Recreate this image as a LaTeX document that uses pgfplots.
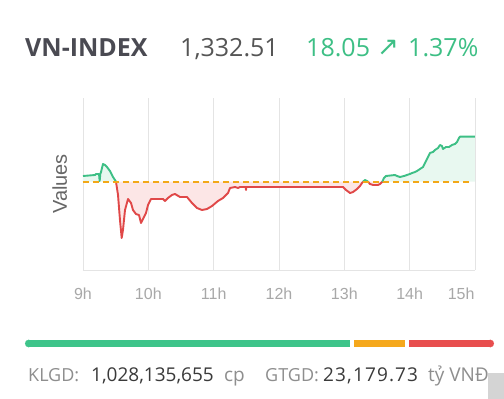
\documentclass[border=0pt]{standalone}
\usepackage{pgfplots}
\pgfplotsset{compat=1.18}
\usepackage{pgfplotstable}
\usepackage{fontspec}
\setmainfont{Open Sans}
\newfontfamily\arialf{Liberation Sans}
\newfontfamily\dejavu{DejaVu Sans}
\definecolor{upg}{HTML}{3DBF85}
\definecolor{dnr}{HTML}{E04848}
\definecolor{refo}{HTML}{F2A818}
\definecolor{upfill}{HTML}{E8F8F0}
\definecolor{dnfill}{HTML}{FCE6E6}
\definecolor{gridc}{HTML}{E4E4E4}
\definecolor{tickc}{HTML}{A8A8A8}
\definecolor{headc}{HTML}{4A4A52}
\definecolor{valc}{HTML}{555555}
\definecolor{lblc}{HTML}{8E8E8E}
\definecolor{numc}{HTML}{3A3A3A}
\definecolor{barg}{HTML}{3EC48A}
\definecolor{baro}{HTML}{F5A81C}
\definecolor{barr}{HTML}{E84E4E}

% green segment 1 (above reference)
\pgfplotstableread{
x y
9.000 1316.74
9.184 1317.14
9.199 1317.54
9.245 1317.54
9.255 1314.74
9.265 1317.54
9.276 1318.34
9.306 1321.54
9.337 1321.14
9.367 1320.34
9.413 1318.74
9.459 1316.34
9.490 1315.14
9.505 1314.46
}\gA
% red segment 1
\pgfplotstableread{
x y
9.505 1314.46
9.536 1309.14
9.566 1299.14
9.592 1291.94
9.612 1295.14
9.643 1303.14
9.689 1307.54
9.735 1305.94
9.765 1303.14
9.811 1301.54
9.857 1301.14
9.888 1297.94
9.918 1299.54
9.964 1301.94
9.995 1305.14
10.041 1307.54
10.225 1307.54
10.255 1306.74
10.301 1307.94
10.362 1309.14
10.408 1309.54
10.485 1308.34
10.592 1308.34
10.668 1305.94
10.745 1303.94
10.822 1303.14
10.898 1303.54
10.975 1304.74
11.066 1306.74
11.143 1307.94
11.220 1309.94
11.250 1311.94
11.327 1312.34
11.373 1311.94
11.403 1312.34
11.490 1312.34
11.495 1311.14
11.500 1312.34
12.980 1312.34
13.026 1311.14
13.087 1309.94
13.133 1310.34
13.194 1311.54
13.240 1312.74
13.271 1313.94
13.286 1314.46
}\rA
% green segment 2
\pgfplotstableread{
x y
13.286 1314.46
13.316 1315.14
13.347 1314.74
13.362 1314.46
}\gB
% red segment 2
\pgfplotstableread{
x y
13.362 1314.46
13.393 1313.54
13.439 1313.14
13.515 1313.14
13.546 1313.54
13.577 1314.34
13.581 1314.46
}\rB
% green segment 3
\pgfplotstableread{
x y
13.581 1314.46
13.607 1315.94
13.638 1316.74
13.776 1317.14
13.806 1316.74
13.852 1316.34
13.914 1316.74
13.959 1317.14
14.005 1317.54
14.036 1317.94
14.082 1318.34
14.112 1318.74
14.158 1319.54
14.204 1320.34
14.235 1321.94
14.265 1323.54
14.311 1325.94
14.357 1326.34
14.388 1327.14
14.434 1327.94
14.464 1329.14
14.495 1328.74
14.510 1327.54
14.556 1328.34
14.602 1328.34
14.648 1329.14
14.694 1329.54
14.725 1330.34
14.755 1331.94
14.771 1332.51
15.000 1332.51
}\gC

\begin{document}
\begin{tikzpicture}[x=1pt,y=1pt]
\path[fill=white, use as bounding box] (0,0) rectangle (504,399);

% header
\node[anchor=base west, inner sep=0, font=\fontsize{25}{29}\selectfont\bfseries, text=headc] at (25,342) {VN-INDEX};
\node[anchor=base west, inner sep=0, font=\fontsize{25}{29}\selectfont, text=valc] at (180,342) {1,332.51};
\node[anchor=base west, inner sep=0, font=\fontsize{25}{29}\selectfont, text=upg] at (306,342) {18.05};
\node[anchor=base west, inner sep=0, font=\dejavu\fontsize{26}{30}\selectfont, text=upg] at (377,343) {↗};
\node[anchor=base west, inner sep=0, font=\fontsize{25}{29}\selectfont, text=upg] at (408,342) {1.37\%};

\begin{axis}[
  at={(83pt,129pt)}, anchor=south west,
  width=392pt, height=172pt, scale only axis,
  xmin=9, xmax=15, ymin=1279.14, ymax=1347.94,
  axis x line*=bottom, axis y line*=left,
  axis line style={draw=gridc, line width=0.9pt, -},
  xtick={9,10,11,12,13,14},
  xticklabels={9h,10h,11h,12h,13h,14h},
  extra x ticks={15}, extra x tick labels={15h},
  extra x tick style={grid=major, xticklabel style={anchor=north east, xshift=3pt}},
  xmajorgrids, grid style={draw=gridc, line width=0.9pt},
  ytick=\empty, major tick length=0pt,
  tick label style={font=\arialf\fontsize{16}{18}\selectfont, text=tickc},
  xticklabel style={yshift=-14pt},
  ylabel={Values},
  ylabel style={font=\arialf\fontsize{20}{24}\selectfont, text=valc!90!white,
    at={(axis description cs:-0.041,0.5)}, anchor=base},
  clip=false,
]
% fills
\addplot[draw=none, fill=upfill, forget plot] coordinates {(9.000,1314.46) (9.000,1316.74) (9.184,1317.14) (9.199,1317.54) (9.276,1318.34) (9.306,1321.54) (9.337,1321.14) (9.367,1320.34) (9.413,1318.74) (9.459,1316.34) (9.490,1315.14) (9.505,1314.46)};
\addplot[draw=none, fill=dnfill, forget plot] table {\rA};
\addplot[draw=none, fill=upfill, forget plot] table {\gB};
\addplot[draw=none, fill=dnfill, forget plot] table {\rB};
\addplot[draw=none, fill=upfill, forget plot] coordinates {(13.581,1314.46) (13.607,1315.94) (13.638,1316.74) (13.776,1317.14) (13.806,1316.74) (13.852,1316.34) (13.914,1316.74) (13.959,1317.14) (14.005,1317.54) (14.036,1317.94) (14.082,1318.34) (14.112,1318.74) (14.158,1319.54) (14.204,1320.34) (14.235,1321.94) (14.265,1323.54) (14.311,1325.94) (14.357,1326.34) (14.388,1327.14) (14.434,1327.94) (14.464,1329.14) (14.495,1328.74) (14.510,1327.54) (14.556,1328.34) (14.602,1328.34) (14.648,1329.14) (14.694,1329.54) (14.725,1330.34) (14.755,1331.94) (14.771,1332.51) (15.000,1332.51) (15.000,1314.46)};
% lines
\addplot[upg, line width=1.9pt, line join=round, no marks] table {\gA};
\addplot[dnr, line width=1.9pt, line join=round, no marks] table {\rA};
\addplot[upg, line width=1.9pt, line join=round, no marks] table {\gB};
\addplot[dnr, line width=1.9pt, line join=round, no marks] table {\rB};
\addplot[upg, line width=1.9pt, line join=round, no marks] table {\gC};
% reference
\addplot[refo, line width=1.8pt, dash pattern=on 6pt off 4pt, no marks] coordinates {(9,1314.46) (14.96,1314.46)};
\end{axis}

% breadth bar: advancing / unchanged / declining, drawn as overlapping bars from 0
\begin{axis}[
  at={(28.75pt,45.5pt)}, anchor=south west,
  width=461.5pt, height=20pt, scale only axis,
  xmin=0, xmax=461.5, ymin=-1, ymax=1,
  hide axis, clip=false,
]
\addplot[xbar, bar shift=0pt, bar width=7.5pt, fill=barr, draw=none] coordinates {(461.5,0)};
\addplot[xbar, bar shift=0pt, bar width=7.5pt, fill=white, draw=none] coordinates {(380.25,0)};
\addplot[xbar, bar shift=0pt, bar width=7.5pt, fill=baro, draw=none] coordinates {(376.25,0)};
\addplot[xbar, bar shift=0pt, bar width=7.5pt, fill=white, draw=none] coordinates {(325.25,0)};
\addplot[xbar, bar shift=0pt, bar width=7.5pt, fill=barg, draw=none] coordinates {(321.25,0)};
\addplot[barg, only marks, mark=*, mark size=3.7pt, mark options={solid, fill=barg, draw=barg, line width=0.1pt}] coordinates {(0,0)};
\addplot[barr, only marks, mark=*, mark size=3.7pt, mark options={solid, fill=barr, draw=barr, line width=0.1pt}] coordinates {(461.5,0)};
\end{axis}

% footer
\fill[black!17] (488,0) rectangle (504,26);
\node[anchor=base west, inner sep=0, font=\fontsize{18}{22}\selectfont, text=lblc] at (28,17) {KLGD:};
\node[anchor=base west, inner sep=0, font=\fontsize{19}{22}\selectfont, text=numc] at (91,17) {1,028,135,655};
\node[anchor=base west, inner sep=0, font=\fontsize{19}{22}\selectfont, text=lblc] at (224,17) {cp};
\node[anchor=base west, inner sep=0, font=\fontsize{18}{22}\selectfont, text=lblc] at (265,17) {GTGD:};
\node[anchor=base west, inner sep=0, font=\fontsize{19}{22}\selectfont\addfontfeature{LetterSpace=6}, text=numc] at (323,17) {23,179.73};
\node[anchor=base west, inner sep=0, font=\fontsize{19}{22}\selectfont, text=lblc] at (428,17) {tỷ VNĐ};
\end{tikzpicture}
\end{document}
